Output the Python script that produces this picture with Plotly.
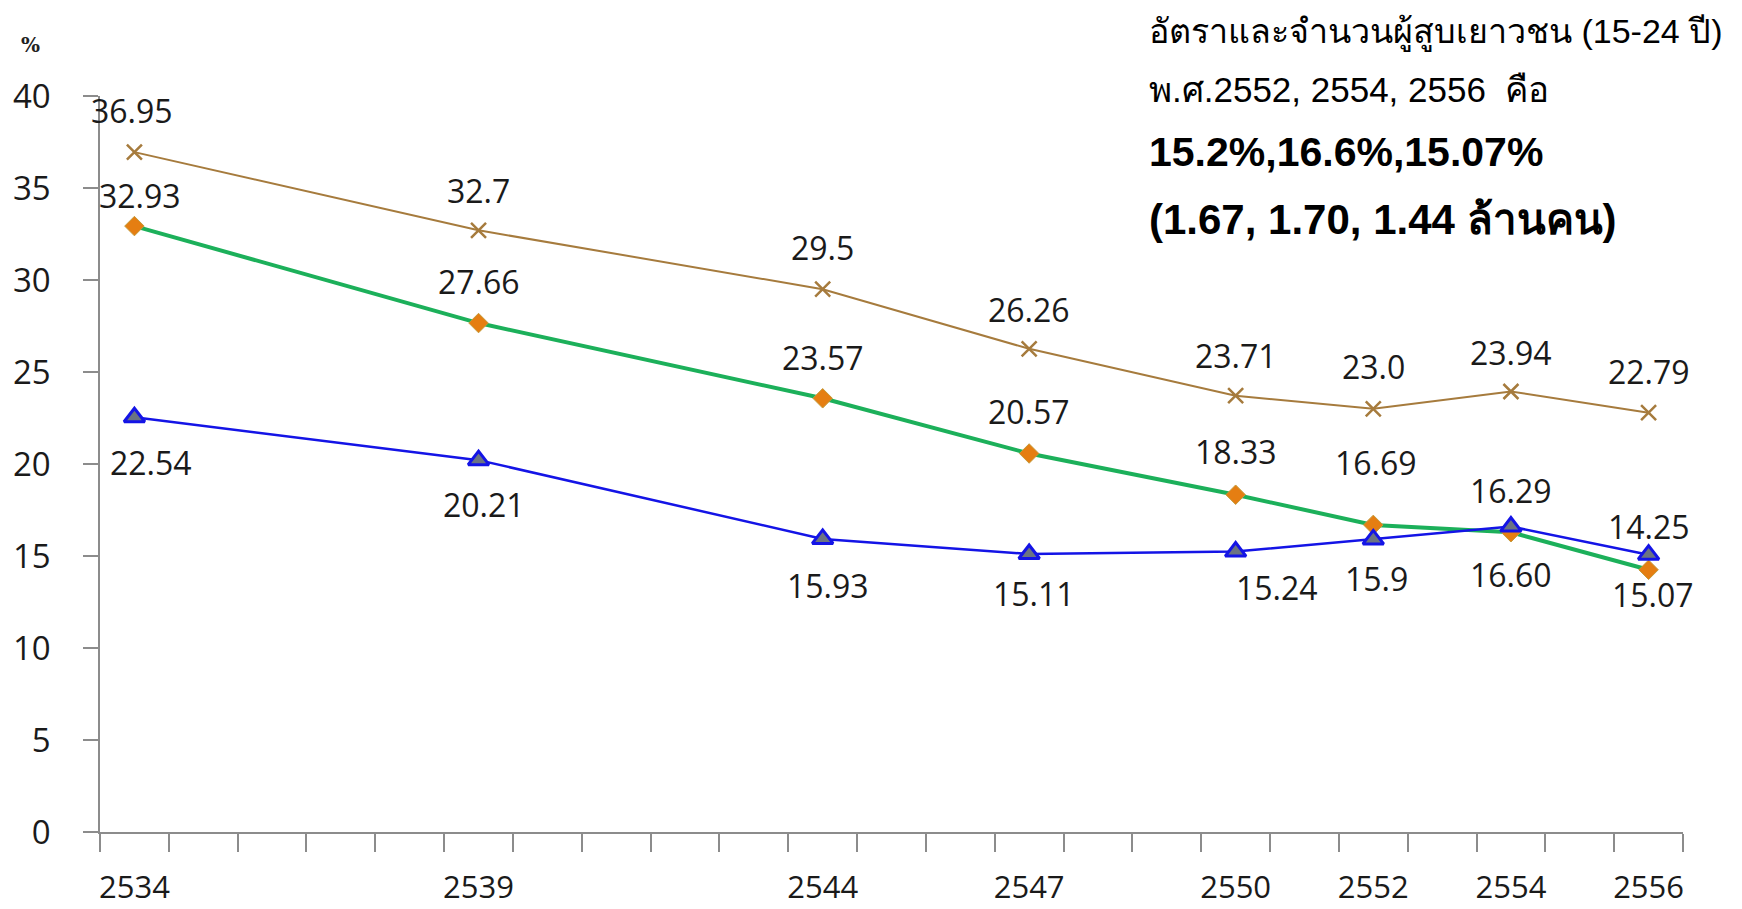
import plotly.graph_objects as go

years = [2534, 2539, 2544, 2547, 2550, 2552, 2554, 2556]
tick_years = [2534, 2539, 2544, 2547, 2550, 2552, 2554, 2556]

brown_vals = [36.95, 32.7, 29.5, 26.26, 23.71, 23.0, 23.94, 22.79]
brown_text = ["36.95", "32.7", "29.5", "26.26", "23.71", "23.0", "23.94", "22.79"]

green_vals = [32.93, 27.66, 23.57, 20.57, 18.33, 16.69, 16.29, 14.25]
green_text = ["32.93", "27.66", "23.57", "20.57", "18.33", "16.69", "16.29", "14.25"]

blue_vals = [22.54, 20.21, 15.93, 15.11, 15.24, 15.9, 16.60, 15.07]
blue_text = ["22.54", "20.21", "15.93", "15.11", "15.24", "15.9", "16.60", "15.07"]

# label placement (pixel shifts)
brown_dx = [-2, 0, 0, 0, 0, 0, 0, 0]
brown_dy = [42, 40, 42, 39, 40, 42, 39, 41]
green_dx = [6, 0, 0, 0, 0, 3, 0, 0]
green_dy = [31, 42, 41, 42, 43, 62, 42, 43]
blue_dx = [17, 5, 5, 5, 41, 3, 0, 4]
blue_dy = [-45, -44, -47, -40, -36, -39, -48, -40]

BROWN = "#A67B3D"
GREEN = "#1CB05A"
BLUE = "#1414E6"
LABEL_FONT = dict(family="Open Sans, DejaVu Sans, sans-serif", size=32, color="#1a1a1a")

fig = go.Figure()
fig.add_trace(go.Scatter(
    x=years, y=brown_vals, mode="lines+markers",
    line=dict(color=BROWN, width=2),
    marker=dict(symbol="x-thin", size=15, line=dict(color=BROWN, width=2.5)),
    showlegend=False, hoverinfo="skip"))
fig.add_trace(go.Scatter(
    x=years, y=green_vals, mode="lines+markers",
    line=dict(color=GREEN, width=4),
    marker=dict(symbol="diamond", size=15, color="#E57E12", line=dict(color="#C49A3A", width=1)),
    showlegend=False, hoverinfo="skip"))
fig.add_trace(go.Scatter(
    x=years, y=blue_vals, mode="lines+markers",
    line=dict(color=BLUE, width=2.5),
    marker=dict(symbol="triangle-up", size=18, color="#6B7383", line=dict(color=BLUE, width=3)),
    showlegend=False, hoverinfo="skip"))

annotations = []
for vals, texts, dxs, dys in [(brown_vals, brown_text, brown_dx, brown_dy),
                              (green_vals, green_text, green_dx, green_dy),
                              (blue_vals, blue_text, blue_dx, blue_dy)]:
    for x, y, t, dx, dy in zip(years, vals, texts, dxs, dys):
        annotations.append(dict(x=x, y=y, xref="x", yref="y", text=t, showarrow=False,
                                xshift=dx, yshift=dy, font=LABEL_FONT,
                                xanchor="center", yanchor="middle"))

PAGE_W, PAGE_H = 1742, 909
# plot area in page pixels
L, R, T, B = 100, 1683, 95.5, 832
W, H = R - L, B - T

def px(xp):
    return (xp - L) / W

def py(yp):
    return (B - yp) / H

THAI_FONT = "Liberation Sans, Arial, Noto Sans, sans-serif"
annotations.append(dict(xref="paper", yref="paper", x=px(1147), y=py(31), xanchor="left", yanchor="middle",
                        text="อัตราและจำนวนผู้สูบเยาวชน (15-24 ปี)", showarrow=False,
                        font=dict(family=THAI_FONT, size=34, color="#000")))
annotations.append(dict(xref="paper", yref="paper", x=px(1147), y=py(89), xanchor="left", yanchor="middle",
                        text="พ.ศ.2552, 2554, 2556  คือ", showarrow=False,
                        font=dict(family=THAI_FONT, size=35, color="#000")))
annotations.append(dict(xref="paper", yref="paper", x=px(1147), y=py(152), xanchor="left", yanchor="middle",
                        text="<b>15.2%,16.6%,15.07%</b>", showarrow=False,
                        font=dict(family=THAI_FONT, size=41, color="#000")))
annotations.append(dict(xref="paper", yref="paper", x=px(1147), y=py(219), xanchor="left", yanchor="middle",
                        text="<b>(1.67, 1.70, 1.44 ล้านคน)</b>", showarrow=False,
                        font=dict(family=THAI_FONT, size=42, color="#000")))
annotations.append(dict(xref="paper", yref="paper", x=px(30), y=py(44), xanchor="center", yanchor="middle",
                        text="<b>%</b>", showarrow=False,
                        font=dict(family="DejaVu Serif, serif", size=20, color="#222")))

TICK_FONT = dict(family="Open Sans, DejaVu Sans, sans-serif", size=33, color="#1a1a1a")
XTICK_FONT = dict(family="Open Sans, DejaVu Sans, sans-serif", size=31, color="#1a1a1a")

fig.update_layout(
    width=PAGE_W, height=PAGE_H, autosize=False,
    margin=dict(l=L, r=PAGE_W - R, t=T, b=PAGE_H - B, pad=0),
    paper_bgcolor="white", plot_bgcolor="white",
    annotations=annotations,
    xaxis=dict(range=[2533.5, 2556.5], tickmode="array", tickvals=tick_years, automargin=False,
               ticktext=[str(v) for v in tick_years], ticks="", showgrid=False, zeroline=False,
               showline=True, linecolor="#8c8c8c", linewidth=2, tickfont=XTICK_FONT,
               ticklabelstandoff=27,
               minor=dict(ticks="outside", ticklen=18, tickcolor="#8c8c8c", tickwidth=1.5,
                          tick0=2533.5, dtick=1, showgrid=False)),
    yaxis=dict(range=[0, 40], dtick=5, tick0=0, ticks="outside", ticklen=15, tickcolor="#8c8c8c",
               tickwidth=1.5, showgrid=False, zeroline=False, showline=True, linecolor="#8c8c8c",
               linewidth=1.5, tickfont=TICK_FONT, ticklabelstandoff=26, automargin=False),
)

fig.write_html("out.html", config={"displayModeBar": False},
               post_script="document.body.style.margin='0';document.body.style.overflow='hidden';")
